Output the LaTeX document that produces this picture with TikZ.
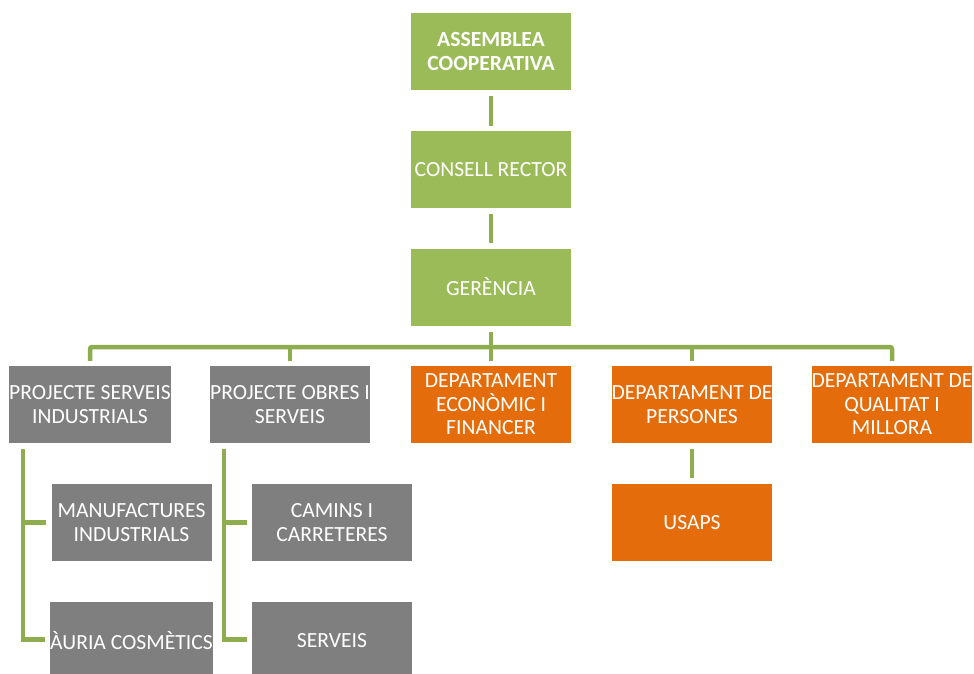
\documentclass[tikz,border=0pt]{standalone}
\usepackage{fontspec}
\setmainfont{Carlito}
\usetikzlibrary{calc}
\definecolor{boxgreen}{HTML}{9BBB59}
\definecolor{linegreen}{HTML}{8DAD4F}
\definecolor{boxgray}{HTML}{7F7F7F}
\definecolor{boxorange}{HTML}{E46C0A}
\tikzset{
  box/.style={rectangle, minimum width=160pt, minimum height=77pt, inner sep=0pt,
    align=center, text=white, font=\fontsize{21.6}{23.5}\selectfont},
  gbox/.style={box, fill=boxgreen},
  graybox/.style={box, fill=boxgray},
  obox/.style={box, fill=boxorange},
  conn/.style={draw=linegreen, line width=4.5pt},
}
\begin{document}
\begin{tikzpicture}[x=1pt, y=-1pt]
\useasboundingbox (0,0) rectangle (974,673);
\clip (0,0) rectangle (974,673);
\node[gbox] (a) at (491,51.5) {\textbf{ASSEMBLEA}\\\textbf{COOPERATIVA}};
\node[gbox] (c) at (491,169.5) {CONSELL RECTOR};
\node[gbox] (g) at (491,287) {GERÈNCIA};
\node[graybox] (p1) at (90,404.5) {PROJECTE SERVEIS\\INDUSTRIALS};
\node[graybox] (p2) at (290,404.5) {PROJECTE OBRES I\\SERVEIS};
\node[obox] (p3) at (491,404.5) {DEPARTAMENT\\ECONÒMIC I\\FINANCER};
\node[obox] (p4) at (692,404.5) {DEPARTAMENT DE\\PERSONES};
\node[obox] (p5) at (892,404.5) {DEPARTAMENT DE\\QUALITAT I\\MILLORA};
\node[graybox] (s1) at (131.5,522.5) {MANUFACTURES\\INDUSTRIALS};
\node[graybox] (s2) at (131.5,640.5) {ÀURIA COSMÈTICS};
\node[graybox] (t1) at (332,522.5) {CAMINS I\\CARRETERES};
\node[graybox] (t2) at (332,640.5) {SERVEIS};
\node[obox] (u) at (692,522.5) {USAPS};
\coordinate (bar) at (0,347);
\draw[conn] ([yshift=-6pt]a.south) -- ([yshift=5pt]c.north);
\draw[conn] ([yshift=-6pt]c.south) -- ([yshift=5pt]g.north);
\draw[conn] ([yshift=-6pt]g.south) -- (g.south |- bar);
\draw[conn, rounded corners=2pt] ([yshift=5pt]p1.north) -- (p1.north |- bar) -- (p5.north |- bar) -- ([yshift=5pt]p5.north);
\draw[conn] (p2.north |- bar) -- ([yshift=5pt]p2.north);
\draw[conn] (p3.north |- bar) -- ([yshift=5pt]p3.north);
\draw[conn] (p4.north |- bar) -- ([yshift=5pt]p4.north);
\draw[conn] ([yshift=-6pt]p4.south) -- ([yshift=6pt]u.north);
\draw[conn] ($(p1.south west)+(14,6)$) |- ([xshift=-5pt]s1.west);
\draw[conn] ($(p1.south west)+(14,6)$) |- ([xshift=-5pt,yshift=1pt]s2.west);
\draw[conn] ($(p2.south west)+(14,6)$) |- ([xshift=-5pt]t1.west);
\draw[conn] ($(p2.south west)+(14,6)$) |- ([xshift=-5pt,yshift=1pt]t2.west);
\end{tikzpicture}
\end{document}
